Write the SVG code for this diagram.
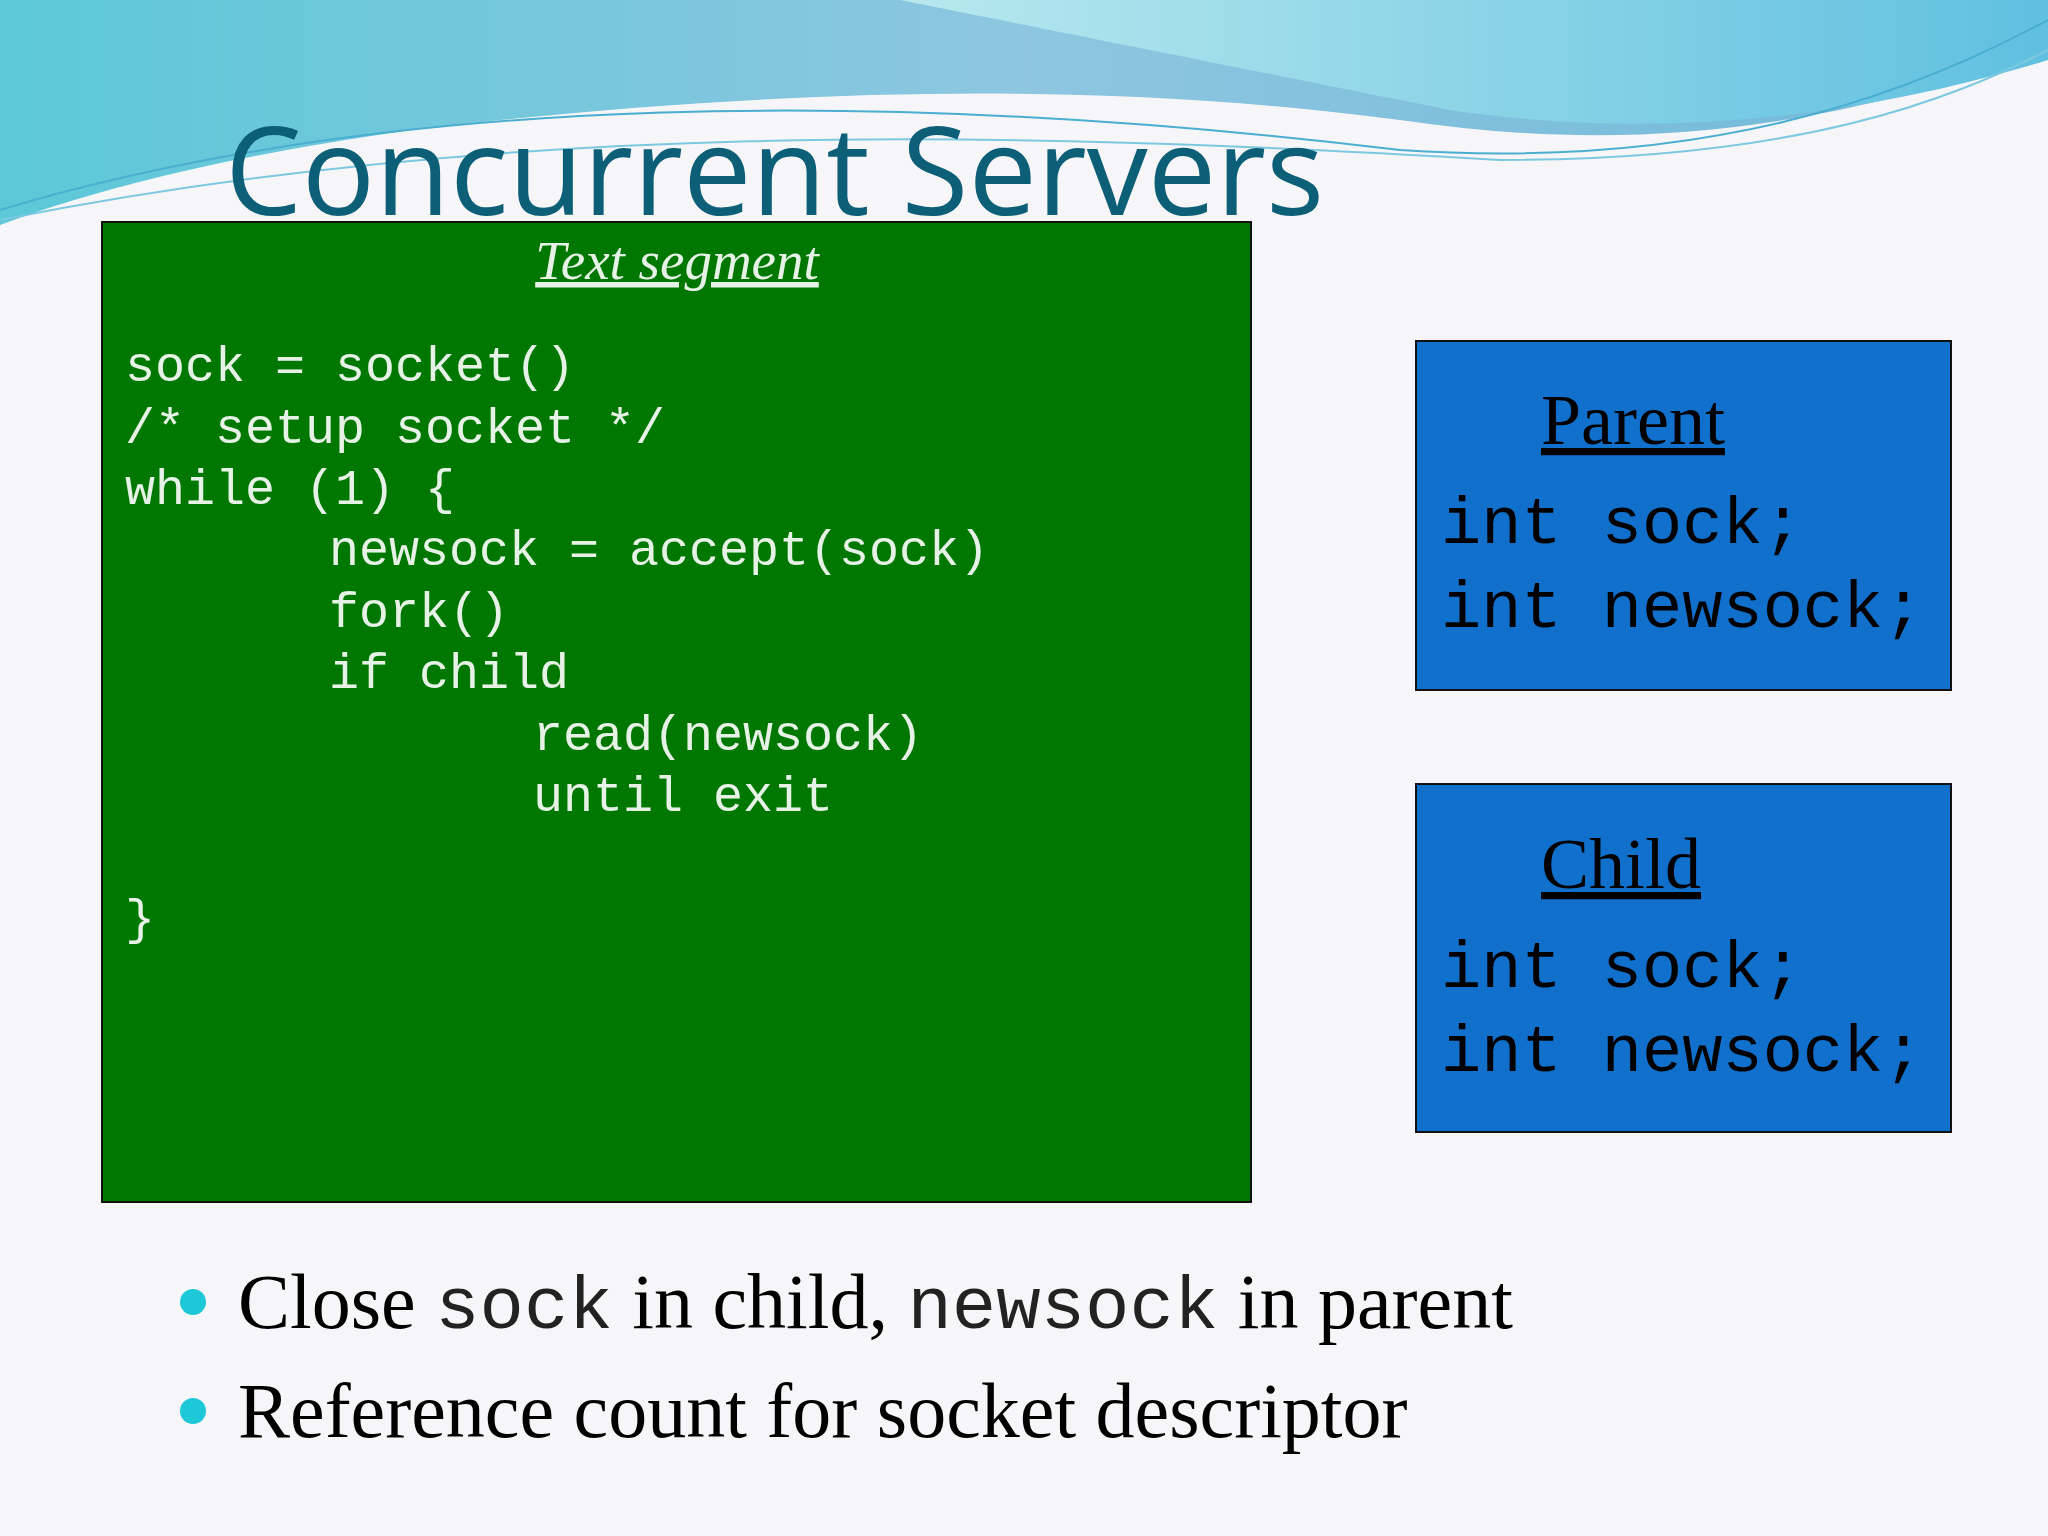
<svg xmlns="http://www.w3.org/2000/svg" width="2048" height="1536" viewBox="0 0 2048 1536">
<defs>
<linearGradient id="sky" x1="0" y1="0" x2="1" y2="0">
<stop offset="0" stop-color="#5cc8d8"/><stop offset="0.5" stop-color="#8ec6e0"/><stop offset="1" stop-color="#6fb8d8"/>
</linearGradient>
<linearGradient id="sky2" x1="0" y1="0" x2="1" y2="0">
<stop offset="0" stop-color="#b8e8ee"/><stop offset="1" stop-color="#60c0e0"/>
</linearGradient>
<style>
.code{font-family:"Liberation Mono",monospace;font-size:50px;fill:#e6f2e6}
.var{font-family:"Liberation Mono",monospace;font-size:67px;fill:#000}
.hd{font-family:"Liberation Serif",serif;font-size:72px;fill:#000;text-decoration:underline}
.bul{font-family:"Liberation Serif",serif;font-size:78px;fill:#000}
.mono{font-family:"Liberation Mono",monospace;font-size:74px;fill:#222}
.box{stroke:#111;stroke-width:2}
</style>
</defs>
<rect width="2048" height="1536" fill="#f6f6f8"/>
<path d="M0 0 H2048 V50 C1800 140 1600 150 1400 120 C1100 80 800 90 500 120 C300 140 120 180 0 225 Z" fill="url(#sky)"/>
<path d="M900 0 H2048 V60 C1850 120 1650 140 1450 110 C1200 60 1050 30 900 0 Z" fill="url(#sky2)"/>
<path d="M0 210 C400 90 900 90 1400 150 C1700 170 1900 100 2048 20" fill="none" stroke="#4aaed0" stroke-width="2"/>
<path d="M0 220 C500 120 1000 130 1500 160 C1800 160 1950 100 2048 50" fill="none" stroke="#7cc8e0" stroke-width="2"/>
<text x="225" y="215" font-family="Open Sans, sans-serif" font-size="122" fill="#0d5f78">Concurrent Servers</text>
<g id="text-segment">
<rect class="box" x="102" y="222" width="1149" height="980" fill="#007700"/>
<text x="677" y="279" text-anchor="middle" font-family="Liberation Serif, serif" font-style="italic" font-size="55" fill="#e6f2e6" text-decoration="underline">Text segment</text>
<text class="code" xml:space="preserve"><tspan x="125" y="381">sock = socket()</tspan><tspan x="125" y="443">/* setup socket */</tspan><tspan x="125" y="504">while (1) {</tspan><tspan x="329" y="565">newsock = accept(sock)</tspan><tspan x="329" y="627">fork()</tspan><tspan x="329" y="688">if child</tspan><tspan x="533" y="750">read(newsock)</tspan><tspan x="533" y="811">until exit</tspan><tspan x="125" y="934">}</tspan></text>
</g>
<g id="parent">
<rect class="box" x="1416" y="341" width="535" height="349" fill="#1170cc"/>
<text class="hd" x="1541" y="444">Parent</text>
<text class="var" x="1441" y="543">int sock;</text>
<text class="var" x="1441" y="627">int newsock;</text>
</g>
<g id="child">
<rect class="box" x="1416" y="784" width="535" height="348" fill="#1170cc"/>
<text class="hd" x="1541" y="888">Child</text>
<text class="var" x="1441" y="987">int sock;</text>
<text class="var" x="1441" y="1071">int newsock;</text>
</g>
<g id="connectors"/>
<g id="bullets">
<circle cx="193" cy="1302" r="13" fill="#1ec8d8"/>
<circle cx="193" cy="1411" r="13" fill="#1ec8d8"/>
<text class="bul" x="238" y="1328">Close <tspan class="mono">sock</tspan> in child, <tspan class="mono">newsock</tspan> in parent</text>
<text class="bul" x="238" y="1437">Reference count for socket descriptor</text>
</g>
</svg>
